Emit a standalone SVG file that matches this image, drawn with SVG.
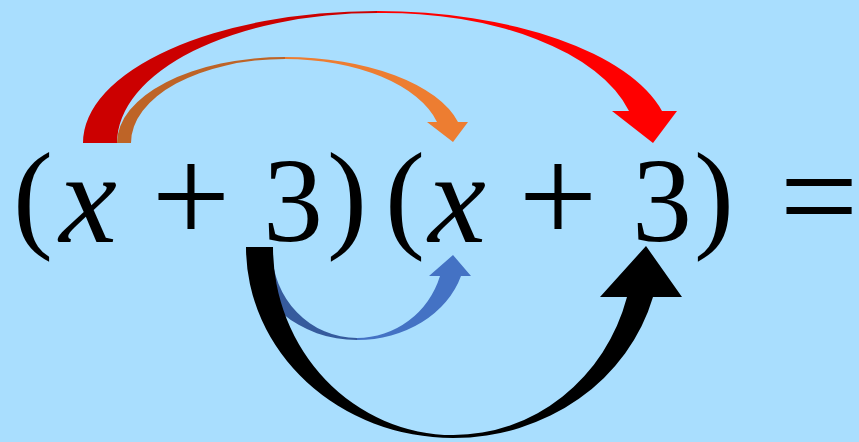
<svg xmlns="http://www.w3.org/2000/svg" width="859" height="442" viewBox="0 0 859 442">
<style>
.g{font-family:"Liberation Serif","Times New Roman",serif;fill:#000;text-anchor:middle}
.p{font-size:120px}
.v{font-size:130px;font-style:italic}
.o{font-size:140px}
.d{font-size:120px}
</style>
<rect width="859" height="442" fill="#A9DEFE"/>
<g id="connectors">
  <g id="arrow-red">
    <path fill="#CC0000" d="M83,143 A294,132 0 0 1 377,11 L377,13 A260,130 0 0 0 117,143 Z"/>
    <path fill="#FF0000" d="M377,11 A294,132 0 0 1 662,111 L677,111 L653,143 L612,111 L629,111 A252,130 0 0 0 377,13 Z"/>
  </g>
  <g id="arrow-orange">
    <path fill="#BE6427" d="M117,143 A168,86 0 0 1 285,57 L285,59 A154,84 0 0 0 131,143 Z"/>
    <path fill="#ED7D31" d="M285,57 A178.4,86 0 0 1 458,122 L468,122 L453,142 L427,122 L437,122 A157,84 0 0 0 285,59 Z"/>
  </g>
  <g id="arrow-blue">
    <path fill="#365B9D" d="M252,250 A105,90 0 0 0 357,340 L357,338 A85,88 0 0 1 272,250 Z"/>
    <path fill="#4472C4" d="M357,340 A108.6,90 0 0 0 461,276 L471,276 L453,255 L429,276 L440,276 A87,88 0 0 1 357,338 Z"/>
  </g>
  <g id="arrow-black">
    <path fill="#000" d="M246,247 A207,191 0 0 0 453,438 A207,191 0 0 0 653,297 L682,297 L646,246 L600,297 L627,297 A180,188 0 0 1 453,435 A180,188 0 0 1 273,247 Z"/>
  </g>
</g>
<g id="equation">
  <text class="g p" x="33" y="236">(</text>
  <text class="g v" x="88" y="242">x</text>
  <text class="g o" x="191" y="243">+</text>
  <text class="g d" x="293" y="241">3</text>
  <text class="g p" x="347" y="236">)</text>
  <text class="g p" x="405" y="236">(</text>
  <text class="g v" x="457" y="242">x</text>
  <text class="g o" x="558" y="243">+</text>
  <text class="g d" x="662" y="241">3</text>
  <text class="g p" x="714" y="236">)</text>
  <text class="g o" x="819" y="243">=</text>
</g>
</svg>
